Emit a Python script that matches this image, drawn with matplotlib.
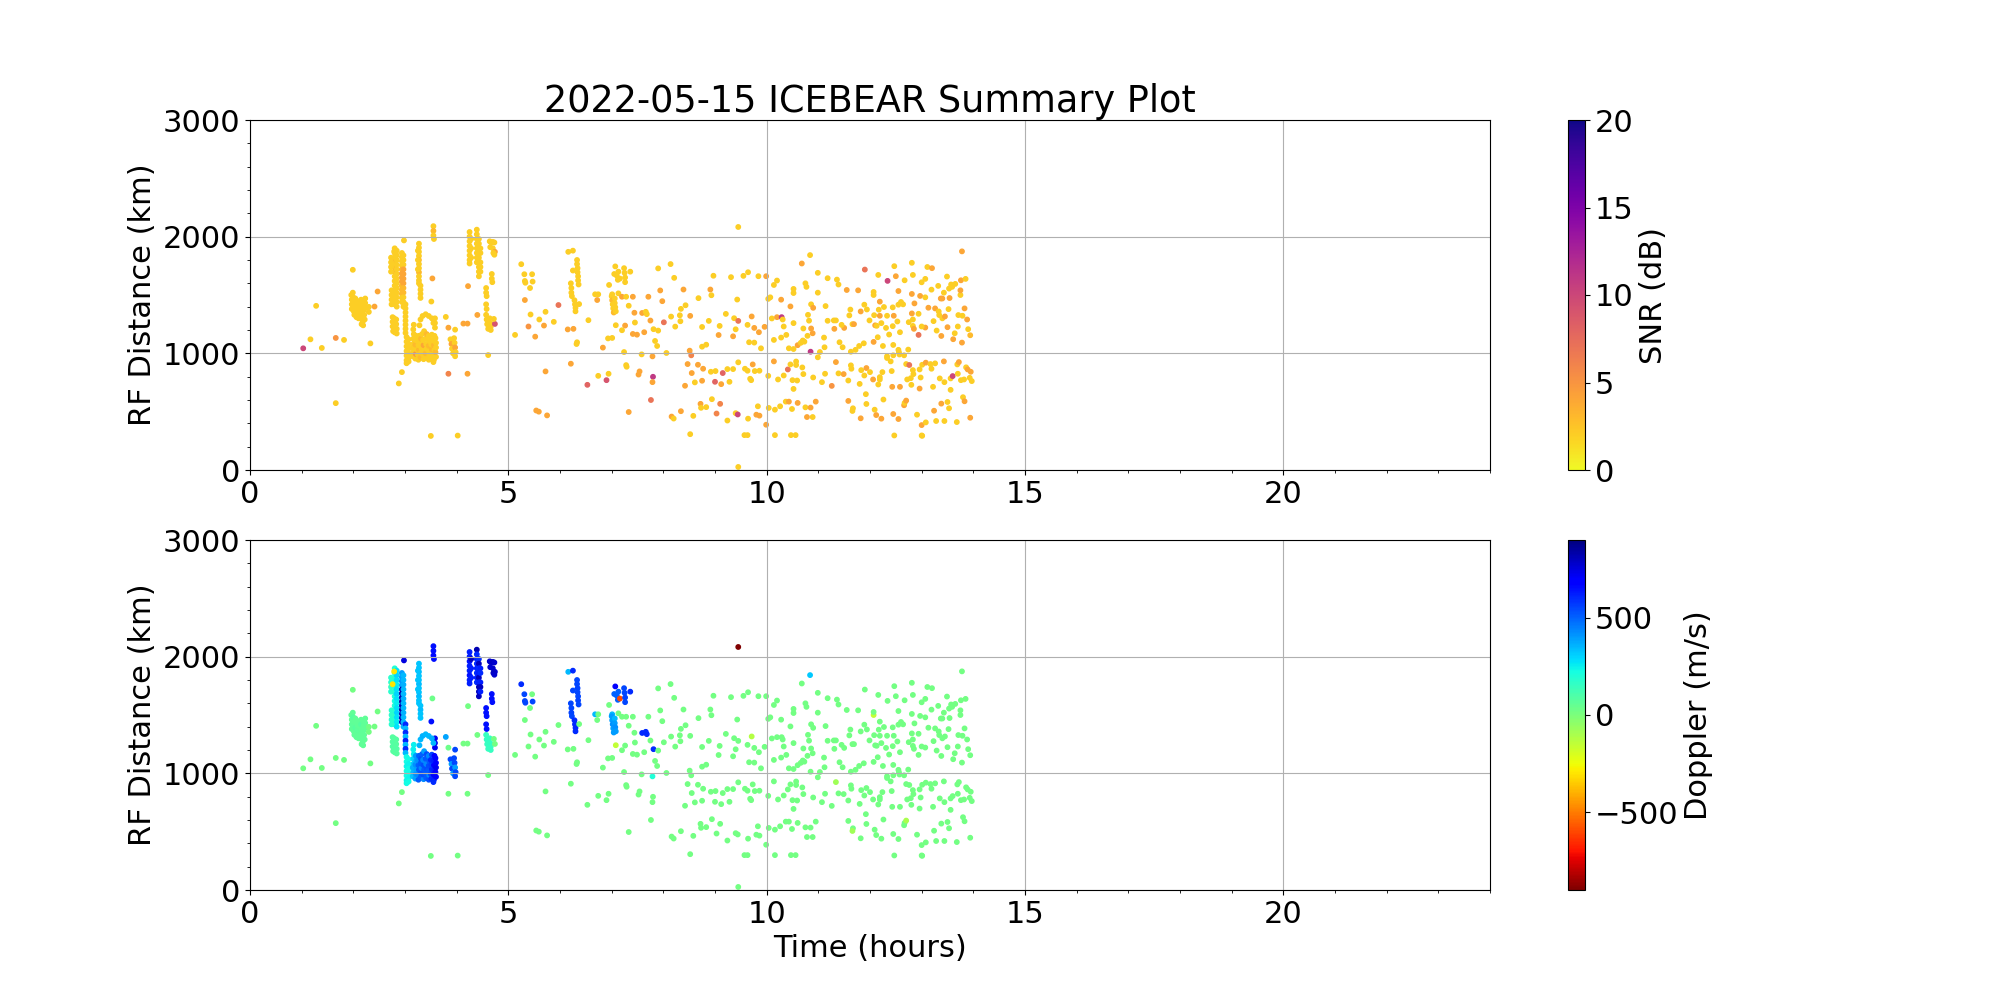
import numpy as np
import matplotlib.pyplot as plt

plt.rcParams['font.size'] = 22

# each point: (time in hours, RF distance km, SNR dB, Doppler m/s)

# dense echo patches before 05:00
blob_0200 = [
    (1.96, 1500, 2, 60), (1.97, 1460, 2, 60), (1.97, 1420, 2, 70), (1.97, 1380, 2, 60),
    (1.99, 1520, 2, 60), (2.00, 1480, 2, 80), (2.00, 1440, 2, 60), (2.00, 1400, 2, 70),
    (2.01, 1360, 2, 60), (2.02, 1330, 2, 60), (2.04, 1470, 2, 60), (2.04, 1430, 2, 60),
    (2.04, 1390, 2, 80), (2.05, 1350, 2, 60), (2.06, 1310, 2, 60), (2.07, 1450, 2, 60),
    (2.08, 1410, 2, 60), (2.08, 1370, 2, 70), (2.09, 1330, 2, 60), (2.10, 1300, 2, 60),
    (2.12, 1440, 2, 60), (2.12, 1400, 2, 60), (2.12, 1360, 2, 70), (2.13, 1320, 2, 60),
    (2.15, 1460, 2, 60), (2.15, 1420, 2, 80), (2.16, 1380, 2, 60), (2.16, 1340, 2, 60),
    (2.17, 1300, 2, 60), (2.18, 1270, 2, 60), (2.19, 1450, 2, 60), (2.20, 1410, 2, 60),
    (2.20, 1370, 2, 60), (2.21, 1330, 2, 60), (2.22, 1290, 2, 60), (2.23, 1470, 2, 60),
    (2.23, 1430, 2, 60), (2.24, 1390, 2, 60), (2.16, 1250, 2, 60), (2.19, 1240, 2, 60),
]

streaks_0245 = [
    # streak A
    (2.80, 1900, 2, 200), (2.80, 1860, 2, 220), (2.80, 1820, 2, 200), (2.80, 1780, 3, 220),
    (2.80, 1740, 3, 200), (2.80, 1700, 3, 230), (2.80, 1660, 2, 200), (2.80, 1620, 2, 220),
    (2.80, 1580, 2, 200), (2.80, 1540, 2, 230), (2.80, 1500, 2, 200), (2.80, 1460, 2, 220),
    (2.80, 1420, 2, 200),
    (2.84, 1880, 2, 280), (2.84, 1840, 2, 300), (2.84, 1800, 2, 280), (2.84, 1760, 2, 260),
    (2.84, 1720, 2, 280), (2.84, 1680, 2, 300), (2.84, 1640, 2, 280), (2.84, 1600, 2, 260),
    (2.84, 1560, 2, 280), (2.84, 1520, 2, 300), (2.84, 1480, 2, 280), (2.84, 1440, 2, 260),
    (2.84, 1400, 2, 280),
    (2.73, 1820, 2, 180), (2.73, 1780, 2, 180), (2.73, 1740, 2, 160), (2.73, 1700, 2, 180),
    (2.74, 1540, 2, 180), (2.74, 1500, 2, 170), (2.74, 1460, 2, 180), (2.74, 1420, 2, 180),
    (2.79, 1873, 2, -300), (2.76, 1764, 2, -300),
    # blob below streak A
    (2.76, 1310, 2, 80), (2.76, 1270, 2, 80), (2.76, 1230, 2, 90), (2.77, 1190, 2, 80),
    (2.79, 1300, 2, 80), (2.80, 1260, 2, 90), (2.80, 1220, 2, 80), (2.80, 1180, 2, 80),
    (2.83, 1290, 2, 80), (2.83, 1250, 2, 80), (2.84, 1210, 2, 90), (2.84, 1170, 2, 80),
    # streak B
    (2.94, 1860, 2, 400), (2.94, 1825, 2, 400), (2.94, 1790, 2, 420), (2.94, 1755, 2, 400),
    (2.94, 1720, 3, 820), (2.94, 1685, 4, 830), (2.94, 1650, 4, 820), (2.94, 1615, 4, 830),
    (2.94, 1580, 3, 820), (2.94, 1545, 3, 830), (2.94, 1510, 3, 820), (2.94, 1475, 2, 820),
    (2.94, 1440, 2, 800),
    (2.97, 1840, 2, 350), (2.97, 1800, 2, 350), (2.97, 1760, 2, 360), (2.97, 1720, 4, 350),
    (2.97, 1680, 4, 350), (2.97, 1640, 4, 360), (2.97, 1600, 4, 350), (2.97, 1560, 3, 350),
    (2.97, 1520, 3, 360), (2.97, 1480, 2, 350), (2.97, 1440, 2, 350), (2.97, 1400, 2, 360),
    (2.98, 1968, 2, 750),
    (3.01, 1420, 2, 600), (3.01, 1385, 2, 350), (3.01, 1350, 2, 600), (3.01, 1315, 2, 350),
    (3.01, 1280, 2, 620), (3.01, 1245, 2, 350), (3.01, 1210, 2, 600), (3.01, 1175, 2, 350),
    # streak C
    (3.03, 1140, 2, 230), (3.03, 1100, 2, 230), (3.03, 1060, 2, 240), (3.03, 1020, 2, 230),
    (3.03, 980, 2, 230), (3.03, 940, 2, 240), (3.03, 915, 2, 230),
    (3.07, 1120, 2, 230), (3.07, 1080, 2, 240), (3.07, 1040, 2, 230), (3.07, 1000, 2, 230),
    (3.07, 960, 2, 240), (3.07, 930, 2, 230),
    # streak D
    (3.27, 1940, 2, 330), (3.27, 1905, 2, 330), (3.27, 1870, 2, 340), (3.27, 1835, 2, 330),
    (3.27, 1800, 3, 330), (3.27, 1765, 2, 340), (3.27, 1730, 2, 330), (3.27, 1695, 3, 330),
    (3.27, 1660, 2, 340), (3.27, 1625, 2, 330), (3.27, 1600, 2, 330),
    (3.30, 1580, 2, 330), (3.30, 1545, 2, 340), (3.30, 1510, 2, 330), (3.30, 1475, 2, 330),
    (3.25, 1880, 2, 330), (3.25, 1800, 2, 330), (3.25, 1720, 2, 330),
]

block_0320 = [
    (3.15, 975, 2, 330), (3.16, 1010, 2, 350), (3.15, 1050, 2, 360), (3.17, 1085, 2, 330),
    (3.16, 1125, 2, 300), (3.17, 1165, 2, 260), (3.16, 1205, 2, 250), (3.17, 1245, 2, 250),
    (3.20, 955, 2, 380), (3.21, 995, 5, 420), (3.22, 1035, 2, 380), (3.20, 1075, 3, 420),
    (3.22, 1110, 2, 380), (3.21, 1150, 2, 400),
    (3.26, 945, 2, 520), (3.25, 990, 2, 430), (3.27, 1030, 3, 520), (3.26, 1070, 2, 500),
    (3.25, 1110, 2, 420), (3.27, 1150, 2, 500),
    (3.30, 965, 3, 520), (3.31, 1005, 2, 540), (3.32, 1045, 2, 430), (3.30, 1085, 2, 520),
    (3.31, 1125, 3, 540), (3.33, 1165, 2, 500),
    (3.36, 950, 2, 430), (3.35, 990, 2, 540), (3.37, 1030, 2, 520), (3.36, 1070, 4, 540),
    (3.35, 1115, 2, 430), (3.37, 1190, 2, 380),
    (3.41, 960, 2, 520), (3.40, 1000, 3, 520), (3.42, 1040, 2, 540), (3.41, 1080, 2, 430),
    (3.40, 1125, 2, 520), (3.42, 1165, 3, 540),
    (3.46, 945, 2, 540), (3.47, 985, 2, 430), (3.45, 1025, 2, 520), (3.46, 1065, 3, 540),
    (3.47, 1105, 2, 520), (3.46, 1150, 2, 430),
    (3.51, 955, 2, 600), (3.50, 995, 2, 560), (3.52, 1035, 3, 600), (3.51, 1075, 2, 560),
    (3.50, 1115, 2, 600), (3.52, 1160, 2, 560),
    (3.56, 945, 2, 620), (3.55, 990, 2, 680), (3.57, 1030, 2, 620), (3.56, 1070, 3, 680),
    (3.55, 1110, 2, 620), (3.57, 1150, 2, 680),
    (3.60, 970, 2, 700), (3.59, 1010, 3, 700), (3.60, 1050, 2, 720), (3.60, 1090, 2, 700),
    (3.59, 1130, 2, 700), (3.58, 1300, 2, 720), (3.58, 1260, 2, 720), (3.58, 1220, 2, 720),
    # arc on top of the block
    (3.28, 1240, 2, 350), (3.30, 1290, 2, 350), (3.34, 1320, 2, 360), (3.40, 1335, 2, 350),
    (3.46, 1320, 2, 350), (3.52, 1300, 2, 360), (3.55, 1260, 2, 350), (3.55, 925, 2, 600),
]

streaks_0400 = [
    # streak F
    (3.55, 2090, 2, 650), (3.55, 2050, 3, 650), (3.55, 2010, 2, 660), (3.56, 1980, 2, 650),
    # patch G
    (3.88, 1120, 2, 550), (3.90, 1080, 4, 400), (3.91, 1040, 2, 550), (3.93, 1000, 2, 400),
    (3.95, 1130, 2, 550), (3.96, 1090, 2, 550), (3.97, 1050, 4, 400), (3.98, 1010, 2, 550),
    (3.97, 975, 2, 550),
    # streak H
    (4.25, 2040, 2, 620), (4.25, 2000, 2, 620), (4.25, 1960, 2, 640), (4.25, 1920, 2, 620),
    (4.25, 1880, 2, 620), (4.25, 1840, 2, 640), (4.25, 1800, 2, 620), (4.25, 1770, 2, 620),
    (4.28, 1980, 2, 800), (4.28, 1900, 2, 620), (4.28, 1820, 2, 620),
    # streak I
    (4.39, 2060, 2, 820), (4.39, 2020, 2, 600), (4.39, 1980, 2, 620), (4.39, 1940, 2, 600),
    (4.39, 1900, 2, 620), (4.39, 1860, 2, 600), (4.39, 1820, 2, 620), (4.39, 1780, 2, 600),
    (4.43, 1980, 2, 600), (4.43, 1940, 2, 800), (4.43, 1900, 2, 600), (4.43, 1860, 2, 620),
    (4.43, 1820, 2, 800), (4.43, 1780, 2, 620), (4.43, 1740, 2, 820), (4.43, 1700, 2, 800),
    (4.43, 1660, 2, 800),
    (4.46, 1900, 2, 620), (4.46, 1860, 2, 600), (4.46, 1780, 2, 620), (4.46, 1740, 2, 800),
    (4.46, 1700, 2, 620),
    (4.64, 1960, 2, 780), (4.67, 1950, 2, 780), (4.70, 1955, 2, 800), (4.73, 1950, 2, 780),
    (4.65, 1910, 2, 780), (4.70, 1900, 2, 780), (4.74, 1870, 4, 780), (4.71, 1860, 2, 800),
    (4.73, 1845, 2, 780),
    (4.68, 1680, 2, 650), (4.68, 1640, 2, 650), (4.69, 1610, 2, 650),
    (4.57, 1560, 2, 650), (4.57, 1520, 2, 650), (4.58, 1490, 2, 650),
    (4.57, 1420, 2, 650), (4.58, 1380, 2, 650),
    (4.57, 1330, 2, 150), (4.58, 1290, 2, 160), (4.59, 1250, 2, 150), (4.61, 1210, 2, 150),
    (4.64, 1300, 2, 150), (4.65, 1260, 2, 160), (4.66, 1230, 2, 150), (4.66, 1200, 2, 150),
]

scatter_early = [
    (1.03, 1043, 10, 20), (1.17, 1120, 2, 20), (1.28, 1407, 2, 20), (1.39, 1046, 2, 20),
    (1.66, 1132, 5, 20), (1.66, 573, 2, 20), (1.82, 1115, 2, 20), (1.99, 1716, 2, 20),
    (2.30, 1398, 2, 20), (2.30, 1355, 2, 20), (2.41, 1401, 4, 20), (2.47, 1530, 4, 20),
    (2.33, 1085, 2, 20), (2.94, 839, 2, 20), (2.88, 742, 2, 20), (3.53, 1642, 4, 30),
    (3.51, 1444, 2, 650), (3.50, 292, 2, 20), (4.02, 295, 2, 20), (3.79, 1312, 2, 380),
    (3.84, 1220, 4, 30), (3.97, 1203, 2, 550), (3.84, 825, 6, 20), (4.21, 825, 4, 20),
    (4.13, 1255, 4, 20), (4.21, 1255, 4, 20), (4.22, 1576, 4, 20), (4.40, 1329, 4, 20),
    (4.74, 1252, 9, 20), (4.61, 985, 2, 20), (4.72, 1295, 2, 20),
]

scatter_mid = [
    (5.13, 1158, 2, 20), (5.25, 1764, 2, 600), (5.31, 1678, 2, 550), (5.46, 1678, 2, 20),
    (5.32, 1620, 2, 550), (5.33, 1605, 2, 550), (5.47, 1615, 2, 550), (5.42, 1560, 2, 20),
    (5.32, 1457, 4, 20), (5.43, 1333, 2, 20), (5.60, 1290, 2, 20), (5.72, 1356, 2, 20),
    (5.88, 1270, 2, 20), (5.97, 1414, 7, 20), (5.39, 1230, 5, 20), (5.69, 1238, 4, 20),
    (5.52, 1143, 4, 20), (6.16, 1870, 2, 350), (6.25, 1880, 2, 600),
    (6.33, 1800, 2, 550), (6.33, 1765, 2, 550), (6.34, 1730, 2, 560), (6.34, 1695, 2, 550),
    (6.35, 1660, 2, 550), (6.35, 1625, 2, 560), (6.36, 1590, 2, 550), (6.25, 1710, 2, 550),
    (6.21, 1600, 2, 550), (6.22, 1560, 2, 550), (6.22, 1520, 2, 560), (6.23, 1490, 2, 550),
    (6.28, 1455, 2, 600), (6.29, 1420, 2, 600), (6.30, 1390, 2, 610), (6.30, 1360, 2, 600),
    (6.37, 1422, 2, 20), (6.15, 1205, 4, 20), (6.26, 1210, 4, 20), (6.33, 1095, 2, 20),
    (6.32, 1080, 2, 20), (6.55, 1284, 2, 20), (6.68, 1506, 2, 350), (6.74, 1506, 2, 20),
    (6.72, 1457, 4, 20), (6.83, 1049, 4, 20), (6.21, 911, 4, 20), (5.72, 845, 4, 20),
    (6.53, 730, 8, 20), (6.74, 807, 2, 20), (6.94, 825, 2, 20), (6.90, 770, 9, 20),
    (5.54, 510, 4, 20), (5.59, 500, 4, 20), (5.75, 468, 4, 20), (6.95, 1586, 2, 20),
    (7.01, 1506, 2, 350), (7.07, 1745, 2, 700), (7.13, 1700, 2, 500), (7.10, 1665, 2, 500),
    (7.12, 1630, 2, 500), (7.05, 1680, 2, 500), (7.16, 1641, 2, -600), (7.24, 1730, 2, 550),
    (7.25, 1690, 2, 550), (7.26, 1650, 2, 560), (7.26, 1610, 2, 550), (7.36, 1700, 2, 600),
    (7.13, 1514, 2, 20), (7.00, 1490, 2, 400), (7.01, 1455, 3, 400), (7.02, 1420, 2, 420),
    (7.03, 1385, 2, 400), (7.04, 1350, 3, 400), (7.06, 1470, 2, 350), (7.06, 1430, 2, 400),
    (7.07, 1395, 2, 420), (7.08, 1360, 2, 400), (7.20, 1485, 4, 20), (7.28, 1485, 2, 20),
    (7.41, 1485, 4, 20), (7.33, 1408, 2, 20), (7.44, 1348, 4, 20), (7.59, 1346, 4, 600),
    (7.66, 1356, 2, 600), (7.68, 1336, 2, 600), (7.08, 1241, 2, -150), (7.26, 1238, 4, 20),
    (7.20, 1198, 2, 20), (7.45, 1264, 2, 20), (7.41, 1166, 4, 20), (7.49, 1160, 4, 20),
    (6.93, 1128, 2, 20), (7.01, 1132, 2, 20), (7.24, 1011, 2, 20), (7.28, 899, 2, 20),
    (7.29, 885, 2, 20), (7.52, 818, 4, 20), (7.54, 845, 4, 20), (7.58, 991, 2, 20),
    (7.63, 1181, 4, 20), (7.71, 1485, 4, 20), (7.75, 1281, 4, 20), (7.81, 1207, 2, 600),
    (7.79, 974, 4, 200), (7.80, 799, 11, 20), (7.79, 753, 4, 20), (7.76, 600, 7, 20),
    (7.33, 497, 4, 20),
]

scatter_late = [
    (7.90, 1728, 2, 20), (7.94, 1539, 4, 20), (7.98, 1447, 4, 20), (8.14, 1765, 2, 20),
    (8.21, 1647, 2, 20), (8.06, 1003, 2, 20), (8.01, 1266, 7, 20), (7.84, 1106, 2, 20),
    (7.88, 1063, 2, 20), (7.90, 1195, 2, 20), (8.15, 1315, 2, 20), (8.23, 1229, 2, 20),
    (8.32, 1326, 2, 20), (8.33, 1275, 2, 20), (8.34, 1381, 2, 20), (8.39, 1547, 4, 20),
    (8.43, 1412, 2, 20), (8.52, 1321, 4, 20), (8.68, 1473, 2, 20), (8.75, 1226, 2, 20),
    (8.88, 1278, 2, 20), (8.91, 1547, 4, 20), (8.93, 1498, 2, 20), (8.97, 1665, 2, 20),
    (9.07, 1157, 4, 20), (9.09, 1235, 2, 20), (9.21, 1338, 2, 20), (9.31, 1653, 2, 20),
    (9.35, 1146, 4, 20), (9.37, 1301, 2, 20), (9.43, 1461, 2, 20), (9.45, 1278, 7, 20),
    (9.40, 1206, 2, 20), (8.51, 1023, 4, 20), (8.54, 983, 6, 20), (8.47, 908, 4, 20),
    (8.55, 831, 4, 20), (8.67, 902, 4, 20), (8.75, 1057, 2, 20), (8.83, 1074, 2, 20),
    (8.77, 868, 4, 20), (8.92, 842, 2, 20), (9.01, 848, 2, 20), (9.15, 831, 8, 20),
    (9.24, 865, 2, 20), (9.35, 865, 2, 20), (9.45, 923, 2, 20), (8.42, 722, 4, 20),
    (8.61, 751, 2, 20), (8.75, 765, 4, 20), (9.00, 756, 8, 20), (9.12, 736, 4, 20),
    (9.28, 756, 2, 20), (8.16, 458, 4, 20), (8.20, 441, 2, 20), (8.34, 504, 4, 20),
    (8.58, 464, 2, 20), (8.52, 307, 2, 20), (8.72, 567, 4, 20), (8.73, 533, 2, 20),
    (8.83, 539, 2, 20), (8.94, 607, 2, 20), (9.03, 484, 6, 20), (9.10, 567, 6, 20),
    (9.24, 424, 2, 20), (9.40, 487, 2, 20), (9.44, 476, 10, 20), (9.45, 2083, 2, -900),
    (9.45, 26, 2, 20),
    # after 09:30, upper band
    (9.55, 1664, 2, 20), (9.64, 1695, 2, 20), (9.84, 1661, 2, 20), (9.99, 1661, 4, 20),
    (10.14, 1586, 2, 20), (10.20, 1624, 2, 20), (10.03, 1467, 2, 20), (10.07, 1480, 2, 20),
    (10.28, 1460, 4, 20), (10.10, 1299, 2, 20), (10.20, 1310, 4, 20), (10.29, 1310, 11, 20),
    (10.31, 1290, 2, 20), (10.33, 1230, 2, 20), (9.96, 1227, 4, 20), (9.85, 1181, 4, 20),
    (9.76, 1218, 4, 20), (9.63, 1244, 2, 20), (9.71, 1316, 4, -120), (9.66, 1095, 2, 20),
    (9.76, 1092, 2, 20), (9.89, 1043, 2, 20), (10.14, 1115, 2, 20), (10.28, 1135, 2, 20),
    (10.38, 1158, 2, 20), (10.46, 1402, 4, 20), (10.52, 1259, 2, 20), (10.43, 1043, 2, 20),
    (10.52, 1037, 2, 20), (10.52, 1517, 2, 20), (10.52, 1552, 2, 20), (10.60, 1070, 4, 20),
    (10.66, 1090, 2, 20), (10.70, 1110, 2, 20), (10.73, 1100, 2, 20), (10.68, 1770, 4, 20),
    (10.75, 1600, 2, 20), (10.77, 1570, 2, 20), (10.84, 1842, 2, 320), (10.86, 1420, 2, 20),
    (10.90, 1390, 4, 20), (10.80, 1330, 2, 20), (10.82, 1280, 2, 20), (10.86, 1213, 4, 20),
    (10.79, 1150, 2, 20), (10.71, 1213, 2, 20), (10.89, 1172, 4, 20), (10.85, 1014, 11, 20),
    (10.99, 1690, 2, 20), (10.99, 1520, 2, 20), (11.03, 1011, 2, 20), (10.99, 966, 2, 20),
    (11.11, 1135, 2, 20), (11.14, 1405, 2, 20), (11.18, 1644, 2, 20), (11.18, 1279, 2, 20),
    (11.12, 1052, 2, 20), (11.30, 1282, 2, 20), (11.34, 1282, 2, 20), (11.31, 1210, 4, 20),
    (11.36, 1632, 2, 20), (11.39, 1590, 2, 20), (11.41, 1095, 2, 20), (11.47, 1052, 2, 20),
    (11.50, 1218, 4, 20), (11.45, 1244, 2, 20), (11.55, 1543, 4, 20), (11.62, 1375, 2, 20),
    (11.60, 1325, 2, 20), (11.63, 1014, 2, 20), (11.66, 1250, 2, 20), (11.69, 1250, 4, 20),
    (11.72, 1030, 2, 20), (11.79, 1063, 2, 20), (11.77, 1540, 4, 20), (11.82, 1359, 4, 20),
    (11.88, 1086, 2, 20), (11.90, 1718, 7, 20), (11.89, 1417, 2, 20), (11.94, 1376, 2, 20),
    (11.99, 1282, 2, 20), (12.07, 1500, 2, -150), (12.07, 1526, 2, 20), (12.08, 1327, 2, 20),
    (12.07, 1098, 4, 20), (12.10, 1240, 4, 20), (12.13, 1236, 2, 20), (12.15, 1138, 2, 20),
    (12.16, 1672, 2, 20), (12.19, 1443, 4, 20), (12.17, 1374, 2, 20), (12.19, 1322, 4, 20),
    (12.22, 1259, 2, 20), (12.27, 1397, 2, 20), (12.25, 1063, 2, 20), (12.31, 1218, 2, 20),
    (12.34, 1621, 10, 20), (12.33, 1322, 2, 20), (12.37, 1161, 2, 20), (12.44, 1233, 2, 20),
    (12.44, 1394, 2, 20), (12.46, 1322, 4, 20), (12.45, 1072, 2, 20), (12.47, 1747, 2, 20),
    (12.50, 1661, 4, 20), (12.53, 1273, 2, 20), (12.55, 1534, 4, 20), (12.55, 1417, 2, 20),
    (12.58, 1181, 2, 20), (12.60, 1440, 2, 20), (12.64, 1420, 2, 20), (12.55, 1030, 2, 20),
    (12.56, 1010, 2, 20), (12.57, 990, 2, 20), (12.67, 1626, 2, 20), (12.75, 1267, 2, 20),
    (12.74, 1032, 2, 20), (12.81, 1776, 2, 20), (12.83, 1672, 2, 20), (12.81, 1509, 4, 20),
    (12.81, 1342, 4, 20), (12.83, 1290, 2, 20), (12.83, 1235, 2, 20), (12.86, 1428, 4, 20),
    (12.85, 1210, 4, 20), (12.94, 1158, 7, 20), (12.94, 1339, 2, 20), (12.97, 1492, 4, 20),
    (13.00, 1609, 2, 20), (13.07, 1638, 2, 20), (13.07, 1480, 2, 20), (13.07, 1221, 4, 20),
    (13.00, 1230, 2, 20), (13.11, 1740, 2, 20), (13.20, 1730, 4, 20), (13.13, 1391, 4, 20),
    (13.19, 1546, 2, 20), (13.23, 1276, 2, 20), (13.26, 1385, 4, 20), (13.29, 1195, 2, 20),
    (13.32, 1578, 2, 20), (13.33, 1359, 2, 20), (13.34, 1328, 2, 20), (13.37, 1470, 4, 20),
    (13.40, 1470, 4, 20), (13.38, 1149, 4, 20), (13.40, 1300, 2, 20), (13.45, 1316, 4, 20),
    (13.43, 1520, 2, 20), (13.49, 1658, 2, 20), (13.52, 1379, 2, 20), (13.54, 1474, 4, 20),
    (13.53, 1555, 2, 20), (13.50, 1224, 4, 20), (13.57, 1590, 2, 20), (13.59, 1570, 2, 20),
    (13.61, 1121, 4, 20), (13.64, 1172, 2, 20), (13.65, 1595, 2, 20), (13.70, 1230, 2, 20),
    (13.71, 1328, 2, 20), (13.76, 1626, 4, 20), (13.78, 1874, 4, 20), (13.75, 1500, 2, 20),
    (13.75, 1540, 4, 20), (13.79, 1322, 2, 20), (13.83, 1385, 4, 20), (13.85, 1638, 2, 20),
    (13.78, 1092, 4, 20), (13.88, 1290, 4, 20), (13.90, 1207, 2, 20), (13.94, 1155, 3, 20),
    # after 09:30, middle band
    (9.58, 868, 2, 20), (9.63, 851, 2, 20), (9.73, 905, 4, 20), (9.77, 848, 2, 20),
    (9.68, 782, 2, 20), (9.70, 770, 2, 20), (9.86, 851, 2, 20), (10.03, 807, 2, 20),
    (10.14, 931, 4, 20), (10.22, 776, 2, 20), (10.33, 810, 2, 20), (10.41, 862, 7, 20),
    (10.46, 905, 2, 20), (10.50, 770, 2, 20), (10.57, 930, 2, 20), (10.57, 900, 2, 20),
    (10.59, 767, 2, 20), (10.52, 695, 2, 20), (10.69, 879, 2, 20), (10.71, 822, 2, 20),
    (10.90, 793, 2, 20), (11.07, 753, 2, 20), (11.13, 825, 2, 20), (11.26, 721, 5, 20),
    (11.34, 925, 4, -80), (11.39, 828, 2, 20), (11.49, 822, 4, 20), (11.58, 767, 2, 20),
    (11.63, 897, 2, 20), (11.64, 868, 2, 20), (11.80, 738, 2, 20), (11.83, 856, 2, 20),
    (11.89, 810, 2, 20), (11.93, 874, 4, 20), (12.00, 839, 2, 20), (12.06, 776, 4, 20),
    (12.19, 796, 2, 20), (12.19, 776, 2, 20), (12.24, 839, 2, 20), (12.16, 733, 2, 20),
    (12.33, 975, 2, 20), (12.33, 960, 2, 20), (12.40, 931, 2, 20), (12.42, 848, 2, 20),
    (12.43, 713, 4, 20), (12.45, 983, 2, 20), (12.58, 713, 4, 20), (12.66, 983, 2, 20),
    (12.70, 908, 2, 20), (12.76, 900, 7, 20), (12.83, 856, 2, 20), (12.84, 822, 2, 20),
    (12.96, 862, 2, 20), (12.98, 793, 2, 20), (13.01, 902, 2, 20), (13.08, 920, 4, 20),
    (12.72, 776, 2, 20), (12.79, 787, 2, 20), (12.80, 730, 2, 20), (12.96, 698, 4, 20),
    (13.17, 908, 2, 20), (13.19, 868, 2, 20), (13.26, 914, 2, 20), (13.22, 713, 2, 20),
    (13.35, 785, 2, 20), (13.43, 931, 4, 20), (13.44, 753, 2, 20), (13.56, 785, 2, 20),
    (13.60, 805, 10, 20), (13.69, 905, 2, 20), (13.72, 925, 4, 20), (13.70, 825, 2, 20),
    (13.76, 770, 2, 20), (13.82, 776, 2, 20), (13.86, 880, 2, 20), (13.89, 862, 4, 20),
    (13.95, 842, 4, 20), (13.97, 762, 2, 20), (13.93, 790, 2, 20), (13.56, 687, 2, 20),
    # after 09:30, lower band
    (9.64, 440, 2, 20), (9.80, 474, 4, 20), (9.86, 466, 4, 20), (9.83, 546, 2, 20),
    (9.99, 388, 4, 20), (10.04, 532, 2, 20), (10.16, 517, 2, 20), (10.26, 546, 2, 20),
    (10.37, 586, 2, 20), (10.43, 586, 4, 20), (10.49, 523, 2, 20), (10.60, 575, 4, 20),
    (10.75, 537, 2, 20), (10.78, 454, 4, 20), (10.85, 535, 4, 20), (10.89, 454, 2, 20),
    (10.95, 586, 4, 20), (11.58, 592, 4, 20), (11.67, 529, 2, 20), (11.66, 506, 2, -80),
    (11.82, 443, 4, 20), (11.92, 650, 2, 20), (11.93, 566, 2, 20), (12.09, 517, 2, 20),
    (12.12, 471, 4, 20), (12.22, 440, 4, 20), (12.26, 604, 2, 20), (12.45, 480, 4, 20),
    (12.55, 437, 4, 20), (12.66, 555, 4, 20), (12.67, 575, 2, 20), (12.70, 595, 4, -100),
    (12.91, 474, 2, 20), (13.00, 385, 4, 20), (13.08, 408, 2, 20), (13.24, 508, 4, 20),
    (13.28, 420, 2, 20), (13.44, 420, 2, 20), (13.38, 569, 4, 20), (13.50, 583, 2, 20),
    (13.53, 529, 2, 20), (13.68, 411, 2, 20), (13.80, 624, 2, 20), (13.83, 589, 4, 20),
    (13.94, 448, 4, 20),
    (9.57, 299, 2, 20), (9.63, 299, 2, 20), (10.16, 299, 2, 20), (10.47, 299, 2, 20),
    (10.56, 299, 2, 20), (12.47, 296, 2, 20), (13.00, 296, 2, 20), (13.01, 293, 2, 20),
]

pts = np.array(blob_0200 + streaks_0245 + block_0320 + streaks_0400
               + scatter_early + scatter_mid + scatter_late, dtype=float)
time_h = pts[:, 0]
rf_km = pts[:, 1]
snr_db = pts[:, 2]
doppler_ms = pts[:, 3]

fig, (ax1, ax2) = plt.subplots(2, 1, figsize=(20, 10))

sc1 = ax1.scatter(time_h, rf_km, c=snr_db, cmap='plasma_r', vmin=0, vmax=20, s=10)
sc2 = ax2.scatter(time_h, rf_km, c=doppler_ms, cmap='jet_r', vmin=-900, vmax=900, s=10)

ax1.set_title('2022-05-15 ICEBEAR Summary Plot')
for ax in (ax1, ax2):
    ax.set_xlim(0, 24)
    ax.set_ylim(0, 3000)
    ax.set_ylabel('RF Distance (km)')
    ax.minorticks_on()
    ax.grid(True, which='major')
ax2.set_xlabel('Time (hours)')

fig.colorbar(sc1, ax=ax1, label='SNR (dB)')
fig.colorbar(sc2, ax=ax2, label='Doppler (m/s)')

fig.savefig('out.png', dpi=100)
